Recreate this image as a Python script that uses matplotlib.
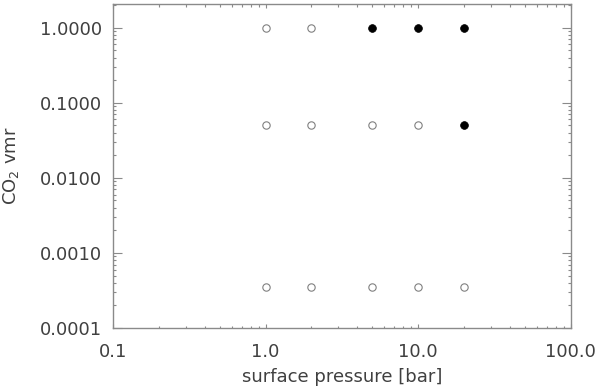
import matplotlib
matplotlib.use("Agg")
import matplotlib.pyplot as plt
from matplotlib.ticker import LogLocator, FormatStrFormatter, NullFormatter

# Data
pressure_open = [1, 2, 1, 2, 5, 10, 1, 2, 5, 10, 20]
vmr_open = [1.0, 1.0, 0.05, 0.05, 0.05, 0.05, 3.5e-4, 3.5e-4, 3.5e-4, 3.5e-4, 3.5e-4]
pressure_filled = [5, 10, 20, 20]
vmr_filled = [1.0, 1.0, 1.0, 0.05]

x_ticks = [0.1, 1.0, 10.0, 100.0]
y_ticks = [0.0001, 0.001, 0.01, 0.1, 1.0]

plt.rcParams['font.family'] = ['DejaVu Sans']
plt.rcParams['mathtext.default'] = 'regular'

text_col = '#404040'
axis_col = '#8a8a8a'

fig = plt.figure(figsize=(6, 3.9), dpi=100)
ax = fig.add_axes([113/600, 1-328/390, (570.5-113)/600, (328-3.7)/390])

ax.plot(pressure_open, vmr_open, linestyle='none', marker='o', markersize=5.3,
        markerfacecolor='none', markeredgecolor='#808080', markeredgewidth=0.8)
ax.plot(pressure_filled, vmr_filled, linestyle='none', marker='o', markersize=5.6,
        markerfacecolor='black', markeredgecolor='black', markeredgewidth=0.5)

ax.set_xscale('log')
ax.set_yscale('log')
ax.set_xlim(0.1, 100)
ax.set_ylim(1e-4, 2.09)

ax.set_xticks(x_ticks)
ax.set_yticks(y_ticks)
ax.xaxis.set_major_formatter(FormatStrFormatter('%.1f'))
ax.yaxis.set_major_formatter(FormatStrFormatter('%.4f'))
ax.xaxis.set_minor_locator(LogLocator(base=10, subs=range(2, 10)))
ax.yaxis.set_minor_locator(LogLocator(base=10, subs=range(2, 10)))
ax.xaxis.set_minor_formatter(NullFormatter())
ax.yaxis.set_minor_formatter(NullFormatter())

for s in ax.spines.values():
    s.set_color(axis_col)
    s.set_linewidth(1.0)

ax.tick_params(axis='both', which='both', direction='in', top=True, right=True,
               color=axis_col, labelcolor=text_col, labelsize=13)
ax.tick_params(axis='x', which='major', length=3.2, width=0.8, pad=11)
ax.tick_params(axis='x', which='minor', length=1.8, width=0.8)
ax.tick_params(axis='y', which='major', length=6.5, width=0.8, pad=8)
ax.tick_params(axis='y', which='minor', length=2.5, width=0.8)

ax.set_xlabel('surface pressure [bar]', fontsize=13, color=text_col)
ax.set_ylabel('CO$_2$ vmr', fontsize=13, color=text_col)
ax.xaxis.set_label_coords(0.5, -0.123)
ax.yaxis.set_label_coords(-0.200, 0.5)

fig.savefig('out.png', dpi=100)
